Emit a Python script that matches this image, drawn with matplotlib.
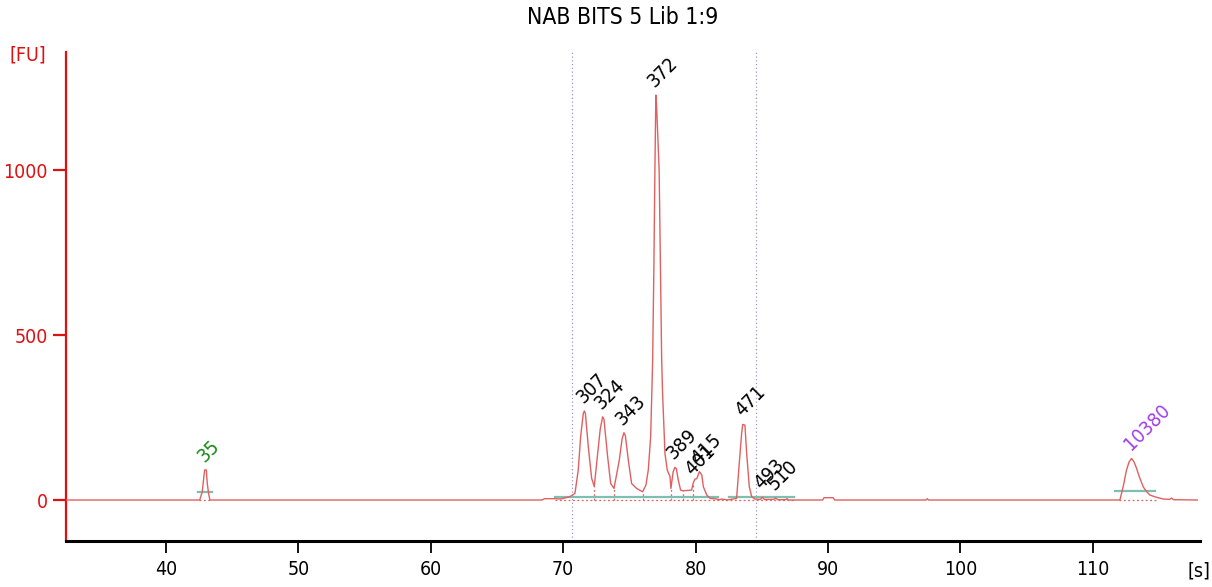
import matplotlib
matplotlib.use("Agg")
import matplotlib.pyplot as plt
from matplotlib import font_manager as fm

# ---------------- data ----------------
TITLE = "NAB BITS 5 Lib 1:9"

TRACE_T = [32.45, 42.55, 42.64, 42.74, 42.82, 42.92, 43.05, 43.12, 43.22, 43.32,
           68.4, 68.6, 69.4, 69.8, 70.5, 70.89, 71.14, 71.32, 71.52, 71.6, 71.68,
           71.9, 72.15, 72.35, 72.58, 72.8, 72.98, 73.08, 73.36, 73.59, 73.84,
           74.24, 74.45, 74.59, 74.7, 74.92, 75.17, 75.55, 76.0, 76.25, 76.43,
           76.61, 76.76, 76.85, 76.93, 77.0, 77.05, 77.15, 77.25, 77.35, 77.44,
           77.51, 77.69, 77.86, 78.07, 78.14, 78.31, 78.44, 78.55, 78.69, 78.87,
           79.06, 79.7, 79.82, 79.95, 80.1, 80.29, 80.47, 80.59, 80.85, 81.1,
           81.6, 81.8, 82.0, 82.4, 83.1, 83.3, 83.48, 83.56, 83.73, 83.86, 84.06,
           84.24, 84.49, 84.9, 85.05, 85.2, 85.9, 86.05, 86.2, 86.8, 86.9, 87.0,
           89.6, 89.7, 90.4, 90.5, 97.4, 97.5, 97.6, 112.05, 112.3, 112.55,
           112.75, 112.93, 113.11, 113.31, 113.51, 113.81, 114.07, 114.32,
           114.83, 115.33, 115.8, 115.96, 116.1, 117.9]
TRACE_FU = [0, 0, 12, 25, 55, 91, 91, 50, 20, 0,
            0, 4, 4, 3, 10, 20, 91, 192, 262, 270, 262,
            161, 66, 41, 131, 215, 252, 245, 131, 50, 35,
            121, 185, 204, 195, 121, 50, 35, 25, 45, 91,
            192, 424, 700, 1000, 1227, 1200, 1100, 1000, 700, 424,
            323, 141, 91, 71, 35, 86, 99, 95, 61, 30,
            28, 30, 51, 63, 65, 86, 76, 40, 15, 5,
            3, 1, 3, 0, 5, 111, 202, 229, 227, 141, 40,
            10, 3, 2, 8, 2, 2, 6, 1, 1, 4, 0,
            0, 7, 7, 0, 0, 4, 0, 0, 41, 91,
            116, 126, 116, 96, 71, 40, 25, 15,
            8, 3, 2, 6, 1, 0]

PEAK_LABELS = ["35", "307", "324", "343", "372", "389", "401", "415", "471",
               "493", "510", "10380"]
PEAK_T = [42.98, 71.6, 72.98, 74.59, 77.0, 78.44, 79.82, 80.29, 83.56,
          85.05, 86.05, 112.93]
PEAK_FU = [91, 270, 252, 204, 1227, 99, 51, 86, 229, 8, 6, 126]
PEAK_KIND = ["marker", "sample", "sample", "sample", "sample", "sample",
             "sample", "sample", "sample", "sample", "sample", "marker_up"]

# integration baselines (start, end, level)
BASE_START = [42.39, 69.38, 82.5, 111.67]
BASE_END = [43.49, 81.7, 87.43, 114.69]
BASE_LEVEL = [23, 10, 10, 28]

# dotted zero baselines (start, end)
ZERO_START = [42.5, 69.4, 112.0]
ZERO_END = [43.35, 87.4, 114.8]

# peak boundary positions (time, trace level)
SPLIT_T = [72.35, 73.84, 76.0, 78.14, 79.06, 79.82]
SPLIT_FU = [41, 35, 25, 35, 28, 51]

# region markers
REGION_T = [70.7, 84.6]

X_TICKS = [40, 50, 60, 70, 80, 90, 100, 110]
Y_TICKS = [0, 500, 1000]

# ---------------- fonts ----------------
plt.rcParams["font.family"] = ["DejaVu Sans"]
cond_path = fm.findfont(fm.FontProperties(family="DejaVu Sans", stretch="condensed"))
HAS_COND = "Condensed" in cond_path

if HAS_COND:
    FONT = dict(family=["DejaVu Sans"], stretch="condensed")
    FS_TICK, FS_LAB, FS_TITLE = 14, 14.3, 16.4
else:
    FONT = dict(family=["DejaVu Sans"])
    FS_TICK, FS_LAB, FS_TITLE = 12.5, 12.8, 14.7

RED = "#e01010"
TRACE = "#e06060"
TEAL = "#7fbfb0"

W, H = 1212, 587
fig = plt.figure(figsize=(W / 100, H / 100), dpi=100)
ax = fig.add_axes([66 / W, (H - 541) / H, (1200 - 66) / W, (541 - 52) / H])

ax.set_xlim(32.45, 118.1)
ax.set_ylim(-124.2, 1357.6)

for t in REGION_T:
    ax.axvline(t, color="#9a9ac8", lw=0.9, ls=(0, (1, 2)), zorder=1)

for s, e in zip(ZERO_START, ZERO_END):
    ax.plot([s, e], [0, 0], color=TRACE, lw=0.9, ls=(0, (1.5, 2)), zorder=2)

for t, v in zip(SPLIT_T, SPLIT_FU):
    ax.plot([t, t], [0, v], color=TRACE, lw=0.9, ls=(0, (1.5, 2)), zorder=2)

for s, e, v in zip(BASE_START, BASE_END, BASE_LEVEL):
    ax.plot([s, e], [v, v], color=TEAL, lw=1.6, zorder=3)

ax.plot(TRACE_T, TRACE_FU, color=TRACE, lw=1.0, zorder=4)

colors = {"marker": "#1a8a1a", "sample": "black", "marker_up": "#a040e8"}
for lab, t, v, k in zip(PEAK_LABELS, PEAK_T, PEAK_FU, PEAK_KIND):
    ax.annotate(lab, (t, v), xytext=(-1, 7), textcoords="offset pixels",
                rotation=45, rotation_mode="anchor", ha="left", va="baseline",
                fontsize=FS_LAB, color=colors[k], zorder=5, **FONT)

for s in ("top", "right"):
    ax.spines[s].set_visible(False)
ax.spines["left"].set_color(RED)
ax.spines["left"].set_linewidth(1.6)
ax.spines["bottom"].set_color("black")
ax.spines["bottom"].set_linewidth(2.2)

ax.set_xticks(X_TICKS)
ax.set_xticklabels([str(v) for v in X_TICKS], **FONT)
ax.set_yticks(Y_TICKS)
ax.set_yticklabels([str(v) for v in Y_TICKS], **FONT)
ax.tick_params(axis="x", direction="out", length=8.5, width=1.3, colors="black",
               labelsize=FS_TICK, pad=5)
ax.tick_params(axis="y", direction="out", length=9.5, width=1.6, colors=RED,
               labelcolor=RED, labelsize=FS_TICK, pad=3.5)

fig.text(623 / W, 1 - 17 / H, TITLE, ha="center", va="center", fontsize=FS_TITLE,
         **FONT)
fig.text(28 / W, 1 - 55 / H, "[FU]", ha="center", va="center", fontsize=FS_TICK,
         color=RED, **FONT)
fig.text(1199 / W, (H - 571) / H, "[s]", ha="center", va="center",
         fontsize=FS_TICK, color="black", **FONT)

fig.savefig("out.png", dpi=100)
